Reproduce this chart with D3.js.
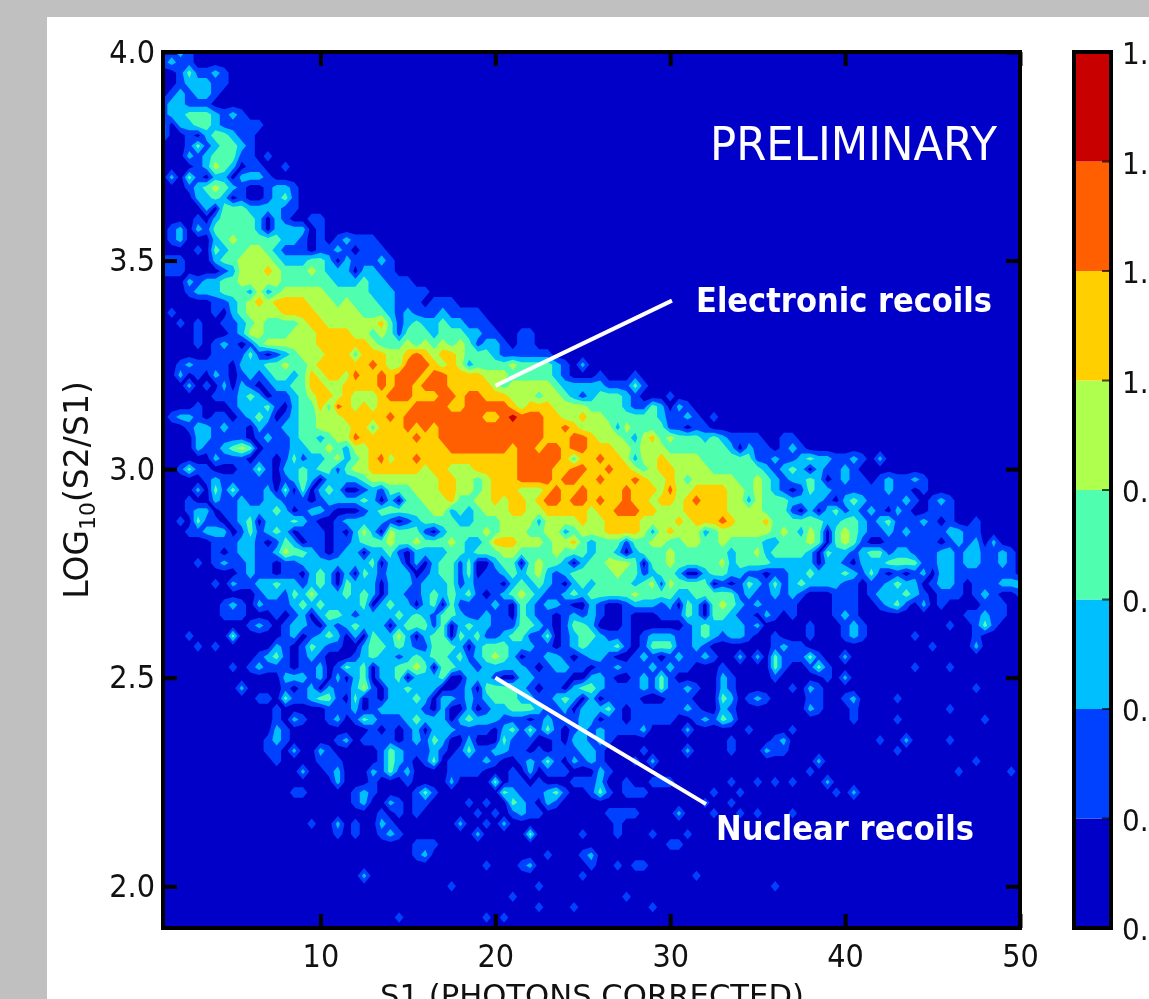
<!DOCTYPE html>
<html>
<head>
<meta charset="utf-8">
<title>S1 vs log S2/S1</title>
<script src="https://cdn.jsdelivr.net/npm/d3@7"></script>
<style>
  html, body { margin: 0; padding: 0; width: 1149px; height: 999px; overflow: hidden; background: #c0c0c0; }
  svg { display: block; filter: blur(0.5px); }
  text { font-family: "DejaVu Sans", sans-serif; fill: #111; }
</style>
</head>
<body>
<svg id="chart" width="1149" height="999"></svg>
<script>
// ── DATA ─────────────────────────────────────────────────────
// histogram bins, S1 step 0.5 from 1, log step 0.025 down from 4.0
const S1_START = 1, S1_STEP = 0.5, LOG_START = 4.0, LOG_STEP = 0.025;
const N_COLS = 99;

// one entry per row, "col:digits" runs, everything else is level 0
const binRows = [
  "0:1121",
  "0:1211",
  "2:131 5:121",
  "2:12221 7:1",
  "1:121221",
  "0:122111",
  "0:1223332 7:121",
  "0:2 2:2233211111",
  "0:2 3:10233211",
  "3:13123321",
  "3:21233311 12:1",
  "4:12432011 14:1",
  "1:2 3:3102202221",
  "3:1234321001221",
  "4:223201001231",
  "5:2033322221 15:1",
  "4:10233332021 17:11",
  "1:1202133333202222 18:1",
  "1:12 6:23433333221 18:1 20:12111",
  "4:1 6:32334432111 18:11210111",
  "0:111 6:233444432223320211121",
  "0:111 7:12444543334322202211",
  "3:21223344444333333222322111",
  "3:1222333242344444333332221111",
  "6:11234545555444343332211101110",
  "1:1 6:1023444455554444433321211121111",
  "2:1 4:1 7:1123433334554444445312322322111",
  "4:1 8:1244333444555544343133323332211 41:11",
  "4:1 6:1210134444445555554333434343431221 41:11",
  "6:111131012344455535554456545543332111111",
  "2:121111022233433455555565446665454233334333321 48:2",
  "2:2 4:1 6:21012123323545546556566656655554443333321 50:1 54:1",
  "3:2 5:1 7:2021012233554455556566566655555434444432222211131",
  "6:11123201123455454445666555 32:66566555444344321233321 58:1",
  "4:1 8:1222310233536545455556666 33:5566666545554444333321132021",
  "1:1221 6:110123201233444555556566666 33:66665567666554454433333321121 63:1",
  "3:122121102112233444455355565656 33:666666666665565444424333311011",
  "4:221111012112332344655555565566 34:66666666665556654443245343332321111 71:11",
  "4:21123430111223343244555555555 33:66666665665665665554434443333333202110121",
  "6:2111011013122342345645565555 34:55555556666653556554244544443333331121123221121 82:2",
  "2:131 5:1 9:1131022323313445555554554 34:445555566665566556554345544443333332 69:21232021121",
  "5:12111111012320222234444444455 34:44345556666566556555654454344444334321223201211 82:121 85:121",
  "4:2 6:3131112030302320012133344455 34:443455544456556555565554644555 64:5443432101322111111211 87:1",
  "3:1 6:2112112211101222232020334445 34:334454554566566565565545545655 64:54424333222210232111121 88:121",
  "3:1220112222320122100012333333442 34:323444554455555455666554445555 64:5444433310202312121021 88:111",
  "2:1 4:311012302223210012222210123333 34:223334444244445445555444454555654 67:4453333332233212311121 90:1 93:1",
  "3:1122201312320111010242043331023 34:333434443344234445555424544423444 67:444343243034321121211112211",
  "6:1112210132011011233343343334 34:32235554443445323331334433443343333223334303431001111110121202",
  "6:1012211243321012202231022223 34:3233344333343332332023334333333233423333203221233122111221221121",
  "4:1 6:1211211011222222223022020233 34:1300233034332023344430334333334233332222202210222333311221221121",
  "9:1211011023202032122201233 34:130112323421233333433123320023322 67:1101122322232131010120221111111",
  "6:1 8:21122322123203222022212223 34:12111023232102323333234143333010132131232222110112322012210111222",
  "11:12213242223232022112323 34:2310123432112323333343333223333312112121 77:11101222321011 91:1 93:121 98:1",
  "7:121 11:21112323222230232202303 34:11112103212210021001222120320 63:3432121111 77:111 82:1231 87:2 89:1 94:111",
  "7:111 13:1 15:1202332122223232133 34:21121103211012121001 57:111 60:3203321102101 77:121 92:11 94:211",
  "10:121 14:12210212322202333130 34:23221113321013320001 60:123222212 74:1 78:121 90:1 93:131",
  "3:1 8:3 14:12012320203224202330 34:32311233113012332111 55:12221 60:12321221 70:1 74:1 78:121 86:1 93:1",
  "4:1 6:1 13:210132110023323211333 34:20233322211012322231013331121 70:1211 88:1 93:2",
  "11:12310121000123221232332 34:312343201122101221001210121121 66:2 68:2 70:3111 74:31 78:2",
  "8:1 10:121110112013230223343033 34:221222221012211011211121211 64:1 70:31 74:131 86:1 90:1",
  "14:22212020230223022230 34:0222100221111002210012131 64:21 70:1 76:1 78:2",
  "9:2 14:10120211241022322200 34:1203333210110233211112131121 64:21 72:1 74:21 93:1",
  "11:11 14:31123310301022232022 34:121233322112320201111 58:111 64:32 67:121 74:11 78:12 84:1",
  "13:1 19:111201222221020 34:0201223332112022231011111121 64:21 74:21 79:1 90:1",
  "13:1 15:21 19:120132111232220 34:2322211101211122011011111 61:12132 79:1 84:1 94:1",
  "13:21 24:1010120222 34:1111023131310121211112 60:2 67:1 72:1",
  "12:121 20:12 23:11110121320 34:020003111001022121 65:1 70:12 82:1 85:2 90:1",
  "12:11 15:2 18:21 25:132111210 34:13112211010111221 55:1 60:2 65:1 69:211 84:1",
  "13:1 18:111 25:1321 30:13 33:111121 41:1213102121 54:1 56:2 75:2 93:1",
  "16:2 19:12 24:21312 33:111 36:1 40:1 42:2 44:111 50:21 74:1 91:1 97:1",
  "20:2 24:1 28:1 33:2 38:3 40:1101 47:111 50:2 53:1 56:111 65:1 68:1 70:1 72:1 76:2",
  "15:11 22:121 29:131 39:32111231 49:131 53:111 63:1 66:1 77:1 79:2",
  "22:12 26:21 29:11 35:1 37:1 40:321021 62:1 65:1",
  "25:1 27:1 29:1 36:1 38:1 40:1211 51:1111 59:2 63:1 66:1 68:1 72:1",
  "17:1 20:2 22:1 25:21 34:2 37:1 39:2 52:1",
  "20:1 22:1 25:121 36:2 42:3 48:1 52:1 56:1 60:1",
  "29:111 58:11",
  "29:12 44:1 48:12",
  "37:1 41:12 49:1 52:1 54:11",
  "23:2 48:1 61:1",
  "33:1 43:1 70:1",
  "40:1 53:1",
  "43:1 47:1 56:1",
  "27:1 37:1 39:1",
  ""
];

const levelCuts = [0.5, 1.5, 2.5, 3.5, 4.5, 5.5, 6.5];
const levelColors = ['#0000c8', '#0040ff', '#00bfff', '#4fffaf', '#afff4f', '#ffcf00', '#ff5f00', '#c80000'];
const barTicks = [0, 0.2, 0.4, 0.6, 0.8, 1.0, 1.2, 1.4, 1.6];
const barLabels = ['0.', '0.', '0.', '0.', '0.', '1.', '1.', '1.', '1.'];

const xTicks = [10, 20, 30, 40, 50];
const yTicks = [2.0, 2.5, 3.0, 3.5, 4.0];

// S1/log coordinates of the two pointer lines
const pointers = [
  [[20, 3.2], [30.1, 3.404]],
  [[20, 2.5], [32.05, 2.197]]
];

// ── LAYOUT ───────────────────────────────────────────────────
const PLOT = { left: 163, right: 1020, top: 52, bottom: 928 };
const BAR = { left: 1074, right: 1111 };

const svg = d3.select('#chart');

svg.append('rect').attr('x', 47).attr('y', 17).attr('width', 1102).attr('height', 982).attr('fill', '#fff');

const x = d3.scaleLinear().domain([1, 50]).range([PLOT.left, PLOT.right]);
const y = d3.scaleLinear().domain([1.9, 4.0]).range([PLOT.bottom, PLOT.top]);
const barY = d3.scaleLinear().domain([0, 1.6]).range([PLOT.bottom, PLOT.top]);

// ── GRID → CONTOURS ──────────────────────────────────────────
function parseRows(rows) {
  const out = new Float64Array(N_COLS * rows.length);
  rows.forEach((row, j) => {
    row.split(' ').filter(Boolean).forEach(run => {
      const [start, digits] = run.split(':');
      [...digits].forEach((d, k) => {
        const col = +start + k;
        if (col < N_COLS) out[j * N_COLS + col] = +d;
      });
    });
  });
  return out;
}

const values = parseRows(binRows);
const contours = d3.contours().size([N_COLS, binRows.length]).thresholds(levelCuts)(values);

// contour coords have cell centres at i + 0.5
const gridPath = d3.geoPath(d3.geoTransform({
  point(cx, cy) {
    this.stream.point(
      x(S1_START + (cx - 0.5) * S1_STEP),
      y(LOG_START - (cy - 0.5) * LOG_STEP)
    );
  }
}));

svg.append('clipPath').attr('id', 'plot-clip').append('rect')
  .attr('x', PLOT.left).attr('y', PLOT.top)
  .attr('width', PLOT.right - PLOT.left).attr('height', PLOT.bottom - PLOT.top);

const plot = svg.append('g').attr('clip-path', 'url(#plot-clip)');

plot.append('rect')
  .attr('x', PLOT.left).attr('y', PLOT.top)
  .attr('width', PLOT.right - PLOT.left).attr('height', PLOT.bottom - PLOT.top)
  .attr('fill', levelColors[0]);

plot.selectAll('path.band')
  .data(contours)
  .join('path')
  .attr('class', 'band')
  .attr('d', gridPath)
  .attr('fill', (d, i) => levelColors[i + 1]);

// ── ANNOTATIONS ──────────────────────────────────────────────
const pointerLine = d3.line().x(d => x(d[0])).y(d => y(d[1]));
plot.selectAll('path.pointer')
  .data(pointers)
  .join('path')
  .attr('class', 'pointer')
  .attr('d', pointerLine)
  .attr('fill', 'none')
  .attr('stroke', '#fff')
  .attr('stroke-width', 4);

svg.append('text').text('PRELIMINARY')
  .attr('x', 710).attr('y', 160)
  .attr('textLength', 287).attr('lengthAdjust', 'spacingAndGlyphs')
  .style('font-size', '47px').style('fill', '#fff');

svg.append('text').text('Electronic recoils')
  .attr('x', 696).attr('y', 312)
  .attr('textLength', 296).attr('lengthAdjust', 'spacingAndGlyphs')
  .style('font-size', '33px').style('font-weight', 'bold').style('fill', '#fff');

svg.append('text').text('Nuclear recoils')
  .attr('x', 716).attr('y', 840)
  .attr('textLength', 258).attr('lengthAdjust', 'spacingAndGlyphs')
  .style('font-size', '33px').style('font-weight', 'bold').style('fill', '#fff');

// ── AXES ─────────────────────────────────────────────────────
function styleAxis(g) {
  g.select('.domain').remove();
  g.selectAll('.tick line').attr('stroke', '#000').attr('stroke-width', 4);
  g.selectAll('.tick text').style('font-size', '32px').style('font-stretch', 'condensed').attr('fill', '#111');
}

svg.append('g').attr('transform', `translate(0,${PLOT.bottom})`)
  .call(d3.axisBottom(x).tickValues(xTicks).tickSizeInner(-14).tickPadding(16).tickFormat(d3.format('d')))
  .call(styleAxis);
svg.append('g').attr('transform', `translate(0,${PLOT.top})`)
  .call(d3.axisTop(x).tickValues(xTicks).tickSizeInner(-14).tickFormat(''))
  .call(styleAxis);
svg.append('g').attr('transform', `translate(${PLOT.left},0)`)
  .call(d3.axisLeft(y).tickValues(yTicks).tickSizeInner(-14).tickPadding(8).tickFormat(d3.format('.1f')))
  .call(styleAxis);
svg.append('g').attr('transform', `translate(${PLOT.right},0)`)
  .call(d3.axisRight(y).tickValues(yTicks).tickSizeInner(-14).tickFormat(''))
  .call(styleAxis);

svg.append('rect')
  .attr('x', PLOT.left).attr('y', PLOT.top)
  .attr('width', PLOT.right - PLOT.left).attr('height', PLOT.bottom - PLOT.top)
  .attr('fill', 'none').attr('stroke', '#000').attr('stroke-width', 4);

const yLabel = svg.append('text')
  .attr('transform', 'translate(88,490) rotate(-90)')
  .attr('text-anchor', 'middle')
  .style('font-size', '33px');
yLabel.append('tspan').text('LOG');
yLabel.append('tspan').text('10').attr('dy', 7).style('font-size', '22px');
yLabel.append('tspan').text('(S2/S1)').attr('dy', -7);

svg.append('text').text('S1 (PHOTONS CORRECTED)')
  .attr('x', 592).attr('y', 1006)
  .attr('text-anchor', 'middle')
  .attr('textLength', 424).attr('lengthAdjust', 'spacingAndGlyphs')
  .style('font-size', '30px');

// ── COLORBAR ─────────────────────────────────────────────────
const bands = d3.pairs(barTicks);
svg.selectAll('rect.band')
  .data(bands)
  .join('rect')
  .attr('class', 'band')
  .attr('x', BAR.left).attr('width', BAR.right - BAR.left)
  .attr('y', d => barY(d[1])).attr('height', d => barY(d[0]) - barY(d[1]))
  .attr('fill', (d, i) => levelColors[i]);

svg.selectAll('line.bar-tick')
  .data(barTicks.slice(1, -1))
  .join('line')
  .attr('class', 'bar-tick')
  .attr('x1', BAR.right - 9).attr('x2', BAR.right)
  .attr('y1', d => barY(d)).attr('y2', d => barY(d))
  .attr('stroke', '#000').attr('stroke-opacity', 0.7).attr('stroke-width', 2);

svg.append('rect')
  .attr('x', BAR.left).attr('y', PLOT.top)
  .attr('width', BAR.right - BAR.left).attr('height', PLOT.bottom - PLOT.top)
  .attr('fill', 'none').attr('stroke', '#000').attr('stroke-width', 4);

svg.selectAll('text.bar-label')
  .data(barTicks)
  .join('text')
  .attr('class', 'bar-label')
  .attr('x', 1122)
  .attr('y', d => barY(d) + 12)
  .text((d, i) => barLabels[i])
  .style('font-size', '31px')
  .style('font-stretch', 'condensed');
</script>
</body>
</html>
